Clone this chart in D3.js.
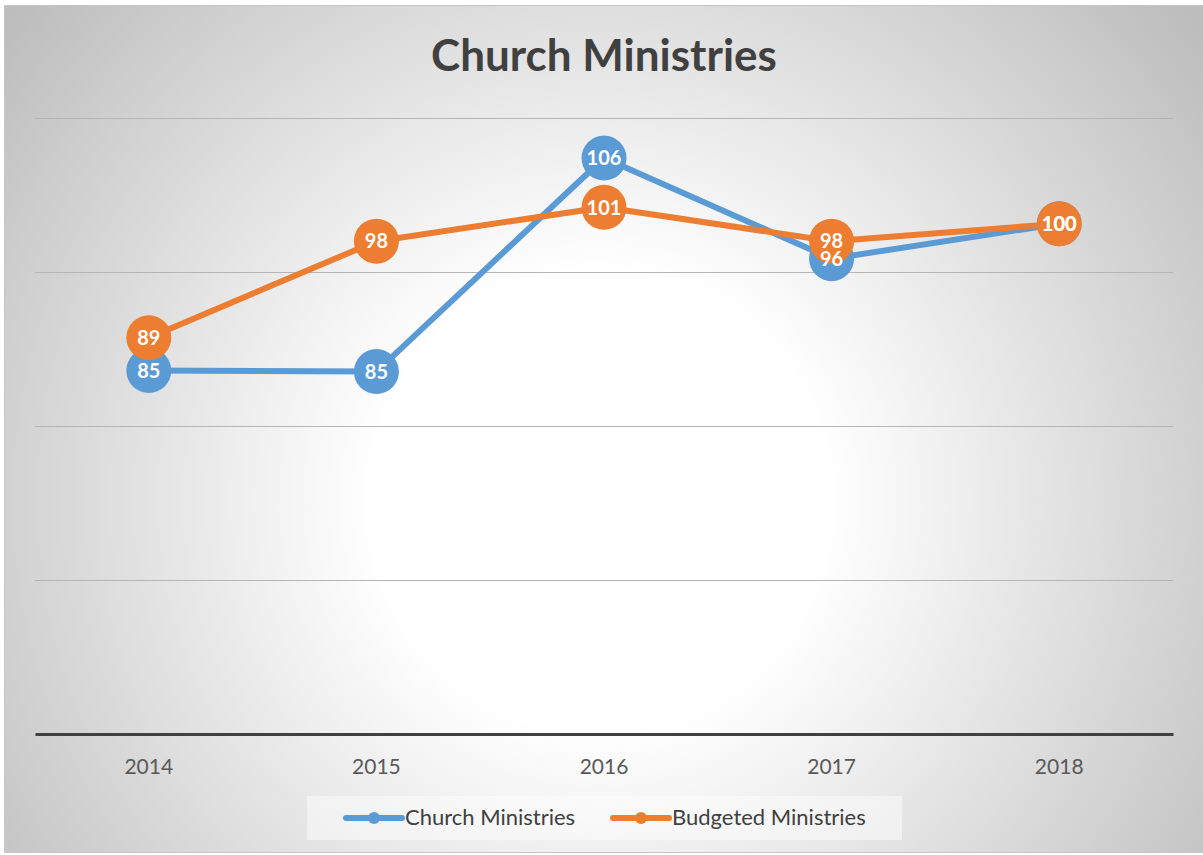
<!DOCTYPE html>
<html>
<head>
<meta charset="utf-8">
<script src="https://cdn.jsdelivr.net/npm/d3@7/dist/d3.min.js"></script>
<style>
  body { margin: 0; background: #fff; }
  text { font-family: Lato, "Open Sans", sans-serif; }
</style>
</head>
<body>
<svg id="chart"></svg>
<script>
const years = ["2014", "2015", "2016", "2017", "2018"];
const churchMinistries = [85.4, 85.3, 106.1, 96.3, 99.7];
const budgetedMinistries = [88.6, 98.0, 101.3, 98.0, 99.7];
const yTicks = [50, 65, 80, 95, 110];
const seriesNames = ["Church Ministries", "Budgeted Ministries"];
const colors = ["#5b9bd5", "#ed7d31"];

const margin = {top: 118, right: 30, bottom: 121, left: 35},
    svgWidth = 1203,
    svgHeight = 855,
    width = svgWidth - margin.left - margin.right,
    height = svgHeight - margin.top - margin.bottom;

const chart = d3.select("#chart")
    .attr("width", svgWidth)
    .attr("height", svgHeight);

// radial background like the office preset
const defs = chart.append("defs");
const grad = defs.append("radialGradient")
    .attr("id", "bg")
    .attr("gradientUnits", "userSpaceOnUse")
    .attr("cx", 600).attr("cy", 500).attr("r", 760);
grad.append("stop").attr("offset", "0%").attr("stop-color", "#ffffff");
grad.append("stop").attr("offset", "30%").attr("stop-color", "#ffffff");
grad.append("stop").attr("offset", "100%").attr("stop-color", "#bdbdbd");

chart.append("rect")
    .attr("x", 4.5).attr("y", 5.5)
    .attr("width", 1205).attr("height", 847)
    .attr("fill", "url(#bg)")
    .attr("stroke", "#c6c6c6")
    .attr("stroke-width", 1);

chart.append("text")
    .attr("x", 604).attr("y", 71)
    .attr("text-anchor", "middle")
    .style("font-size", "44px")
    .style("font-weight", "bold")
    .style("fill", "#404040")
    .text("Church Ministries");

const inner = chart.append("g")
    .attr("transform", `translate(${margin.left},${margin.top})`);

const xScale = d3.scaleBand().domain(years).range([0, width]);
const yScale = d3.scaleLinear().domain([50, 110]).range([height, 0]);

// gridlines
inner.append("g")
    .selectAll("line")
    .data(yTicks.slice(1))
    .enter()
    .append("line")
    .attr("x1", 0).attr("x2", width)
    .attr("y1", d => Math.round(yScale(d)) + 0.5)
    .attr("y2", d => Math.round(yScale(d)) + 0.5)
    .attr("stroke", "#b5b5b5")
    .attr("stroke-width", 1);

// x axis
const xAxis = d3.axisBottom(xScale).tickSize(0).tickPadding(25);
const gx = inner.append("g")
    .attr("transform", `translate(0,${height})`)
    .call(xAxis);
gx.select(".domain").attr("stroke", "#404040").attr("stroke-width", 3);
gx.selectAll("text")
    .style("font-size", "21px")
    .style("fill", "#595959")
    .style("font-family", "Lato, sans-serif");

const xPos = d => xScale(d) + xScale.bandwidth() / 2;

const line = d3.line()
    .x((d, i) => xPos(years[i]))
    .y(d => yScale(d));

const allSeries = [churchMinistries, budgetedMinistries];

allSeries.forEach(function(values, s) {
    const g = inner.append("g");
    g.append("path")
        .datum(values)
        .attr("d", line)
        .attr("fill", "none")
        .attr("stroke", colors[s])
        .attr("stroke-width", 6)
        .attr("stroke-linejoin", "round")
        .attr("stroke-linecap", "round");
    g.selectAll("circle")
        .data(values)
        .enter()
        .append("circle")
        .attr("cx", (d, i) => xPos(years[i]))
        .attr("cy", d => yScale(d))
        .attr("r", 22.5)
        .attr("fill", colors[s]);
});

// data labels on top of everything
allSeries.forEach(function(values) {
    inner.append("g")
        .selectAll("text")
        .data(values)
        .enter()
        .append("text")
        .attr("x", (d, i) => xPos(years[i]))
        .attr("y", d => yScale(d))
        .attr("dy", "0.36em")
        .attr("text-anchor", "middle")
        .style("font-size", "20px")
        .style("font-weight", "bold")
        .style("fill", "#ffffff")
        .text(d => d3.format(".0f")(d));
});

// legend
const legend = chart.append("g");
legend.append("rect")
    .attr("x", 307).attr("y", 796)
    .attr("width", 595).attr("height", 44)
    .attr("fill", "#ffffff")
    .attr("fill-opacity", 0.45);

const legendItems = [
    {x: 346, name: seriesNames[0], color: colors[0]},
    {x: 613, name: seriesNames[1], color: colors[1]}
];
legendItems.forEach(function(it) {
    legend.append("line")
        .attr("x1", it.x).attr("x2", it.x + 56)
        .attr("y1", 818).attr("y2", 818)
        .attr("stroke", it.color)
        .attr("stroke-width", 6)
        .attr("stroke-linecap", "round");
    legend.append("circle")
        .attr("cx", it.x + 28).attr("cy", 818)
        .attr("r", 6)
        .attr("fill", it.color);
    legend.append("text")
        .attr("x", it.x + 59).attr("y", 825)
        .style("font-size", "22px")
        .style("fill", "#404040")
        .text(it.name);
});
</script>
</body>
</html>
